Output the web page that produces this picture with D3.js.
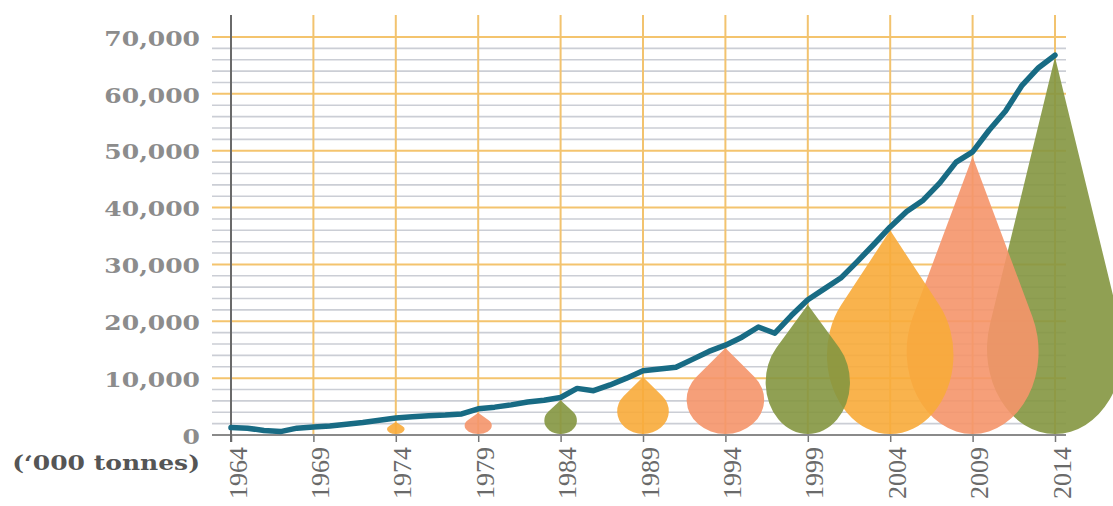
<!DOCTYPE html>
<html>
<head>
<meta charset="utf-8">
<script src="https://cdn.jsdelivr.net/npm/d3@7"></script>
<style>
  body { margin: 0; background: #fff; }
  svg { display: block; }
  .ylab text { font-family: "DejaVu Serif", serif; font-weight: bold; font-size: 20px; fill: #8c8c8c; }
  .xlab text { font-family: "Liberation Serif", serif; font-size: 26px; fill: #6a6a6a; }
</style>
</head>
<body>
<svg width="1113" height="506"></svg>
<script>
// Data ======================================================
var years = [1964, 1965, 1966, 1967, 1968, 1969, 1970, 1971, 1972, 1973,
             1974, 1975, 1976, 1977, 1978, 1979, 1980, 1981, 1982, 1983,
             1984, 1985, 1986, 1987, 1988, 1989, 1990, 1991, 1992, 1993,
             1994, 1995, 1996, 1997, 1998, 1999, 2000, 2001, 2002, 2003,
             2004, 2005, 2006, 2007, 2008, 2009, 2010, 2011, 2012, 2013, 2014];
var tonnes = [1300, 1200, 800, 600, 1200, 1400, 1600, 1900, 2200, 2600,
              3000, 3200, 3400, 3500, 3700, 4600, 4900, 5300, 5800, 6100,
              6600, 8200, 7800, 8800, 10000, 11300, 11600, 11900, 13300, 14700,
              15800, 17200, 19000, 17900, 21000, 23800, 25700, 27600, 30500, 33500,
              36600, 39300, 41300, 44300, 48000, 49800, 53600, 57000, 61500, 64600, 66800];
var tickYears = [1964, 1969, 1974, 1979, 1984, 1989, 1994, 1999, 2004, 2009, 2014];
var yTicks = [0, 10000, 20000, 30000, 40000, 50000, 60000, 70000];

// the drops: year, height ('000 tonnes) and relative size (% of largest)
var dropYears = [1974, 1979, 1984, 1989, 1994, 1999, 2004, 2009, 2014];
var dropTops = [2300, 3900, 6100, 10200, 15300, 22900, 36000, 49000, 66500];
var dropSize = [13, 20, 24, 38, 57, 62, 93, 97, 100];
var dropColors = ["#f8ab3a", "#f5956a", "#849640"];

// Setup =====================================================
var svg = d3.select("svg"),
    width = +svg.attr("width"),
    height = +svg.attr("height");

var x = d3.scaleLinear().domain([1964, 2014]).range([231, 1055]);
var y = d3.scaleLinear().domain([0, 70000]).range([435, 37]);
var w = d3.scaleLinear().domain([0, 100]).range([0, 136]);

var gridLeft = 212, gridRight = 1066, gridTop = 15;

// Grid ======================================================
var grid = svg.append("g").attr("class", "grid");

grid.selectAll(".minor")
  .data(y.ticks(35).filter(function(d) { return d % 10000 != 0; }))
  .enter().append("line")
    .attr("x1", gridLeft).attr("x2", gridRight)
    .attr("y1", function(d) { return y(d); })
    .attr("y2", function(d) { return y(d); })
    .attr("stroke", "#cbced5")
    .attr("stroke-width", 1.6);

grid.selectAll(".major")
  .data(yTicks.slice(1))
  .enter().append("line")
    .attr("x1", gridLeft).attr("x2", gridRight)
    .attr("y1", function(d) { return y(d); })
    .attr("y2", function(d) { return y(d); })
    .attr("stroke", "#f4c46e")
    .attr("stroke-width", 2);

grid.selectAll(".vert")
  .data(tickYears.slice(1))
  .enter().append("line")
    .attr("x1", function(d) { return x(d); })
    .attr("x2", function(d) { return x(d); })
    .attr("y1", gridTop).attr("y2", y(0))
    .attr("stroke", "#f2c36f")
    .attr("stroke-width", 2);

// Drops =====================================================
// a cone from the tip, tangent to an ellipse that forms the bulb
function dropPath(cx, top, bottom, r) {
  var h = bottom - top;
  var b = Math.min(1.25 * r, 0.4 * h);
  var cy = bottom - b;
  var D = (cy - top) / b;
  var tx = r * Math.sqrt(1 - 1 / (D * D));
  var ty = cy - b / D;
  return "M" + cx + "," + top +
         "L" + (cx + tx) + "," + ty +
         "A" + r + "," + b + " 0 1 1 " + (cx - tx) + "," + ty +
         "Z";
}

var drops = dropYears.map(function(yr, i) {
  return { year: yr, top: dropTops[i], size: dropSize[i], color: dropColors[i % 3] };
});

// later drops go underneath the earlier ones
svg.append("g").attr("class", "drops")
  .selectAll("path")
  .data(drops.slice().reverse())
  .enter().append("path")
    .attr("d", function(d) { return dropPath(x(d.year), y(d.top), y(0) - 1, w(d.size) / 2); })
    .attr("fill", function(d) { return d.color; })
    .attr("fill-opacity", 0.9);

// Axes ======================================================
var yAxis = svg.append("g")
    .attr("class", "ylab")
    .attr("transform", "translate(231,0)")
    .call(d3.axisLeft(y).tickValues(yTicks).tickFormat(d3.format(",")).tickSize(0));
yAxis.select(".domain").remove();
yAxis.selectAll("text")
    .attr("x", 0)
    .attr("dy", "0.36em")
    .attr("text-anchor", "end")
    .attr("transform", "translate(-31,1) scale(1.25,1)");

var xAxis = svg.append("g")
    .attr("class", "xlab")
    .attr("transform", "translate(0," + y(0) + ")")
    .call(d3.axisBottom(x).tickValues(tickYears).tickFormat(d3.format("d")).tickSize(7));
xAxis.select(".domain").remove();
xAxis.selectAll(".tick line").attr("stroke", "#777").attr("stroke-width", 1.5);
xAxis.selectAll("text")
    .attr("x", 0).attr("y", 0).attr("dy", 0)
    .attr("text-anchor", "end")
    .attr("transform", "translate(15,12) rotate(-90)");

// baseline and left axis
svg.append("line")
    .attr("x1", gridLeft).attr("x2", gridRight)
    .attr("y1", y(0)).attr("y2", y(0))
    .attr("stroke", "#8a8a8a").attr("stroke-width", 2);
svg.append("line")
    .attr("x1", x(1964)).attr("x2", x(1964))
    .attr("y1", gridTop).attr("y2", y(0) + 7)
    .attr("stroke", "#6a6a6a").attr("stroke-width", 2);

// Line ======================================================
var line = d3.line()
    .x(function(d, i) { return x(years[i]); })
    .y(function(d) { return y(d); });

svg.append("path")
    .datum(tonnes)
    .attr("d", line)
    .attr("fill", "none")
    .attr("stroke", "#186b84")
    .attr("stroke-width", 5.5)
    .attr("stroke-linejoin", "round")
    .attr("stroke-linecap", "round");

// unit label
svg.append("text")
    .attr("text-anchor", "end")
    .attr("transform", "translate(200,470) scale(1.25,1)")
    .attr("font-family", "DejaVu Serif, serif")
    .attr("font-weight", "bold")
    .attr("font-size", 20)
    .attr("fill", "#555")
    .text("(\u2018000 tonnes)");
</script>
</body>
</html>
